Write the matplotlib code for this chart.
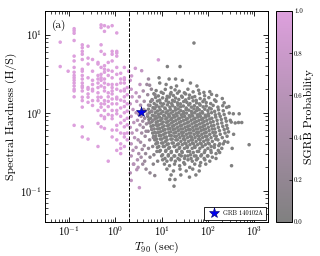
import numpy as np
import matplotlib
matplotlib.use("Agg")
import matplotlib.pyplot as plt
from matplotlib.colors import LinearSegmentedColormap

plt.rcParams['font.family'] = 'serif'
plt.rcParams['font.serif'] = ['cmr10', 'DejaVu Serif']
plt.rcParams['mathtext.fontset'] = 'cm'
plt.rcParams['axes.formatter.use_mathtext'] = True

# short GRBs (T90 [s], hardness ratio), SGRB probability ~1
short_grbs = [
    (0.064, 8.0), (0.064, 3.9), (0.095, 3.4),
    (0.128, 11.9), (0.128, 11.2), (0.128, 10.4), (0.128, 8.4), (0.128, 5.3), (0.128, 4.6),
    (0.128, 3.8), (0.128, 3.3), (0.128, 3.0), (0.128, 2.6), (0.128, 2.2), (0.128, 2.0),
    (0.128, 1.9), (0.128, 1.6), (0.128, 0.69), (0.128, 2.8), (0.128, 2.4),
    (0.192, 7.4), (0.192, 6.8), (0.192, 6.1), (0.192, 5.6), (0.192, 4.8), (0.192, 3.6),
    (0.192, 3.4), (0.192, 3.0), (0.192, 2.4), (0.192, 2.2), (0.192, 2.1), (0.192, 1.9),
    (0.192, 1.58), (0.192, 1.43), (0.192, 1.18), (0.192, 0.66), (0.192, 0.49), (0.192, 2.7),
    (0.256, 7.1), (0.256, 5.0), (0.256, 4.2), (0.256, 2.8), (0.256, 2.1), (0.256, 2.0),
    (0.256, 1.58), (0.256, 1.36), (0.256, 0.46), (0.256, 1.74),
    (0.32, 4.8), (0.32, 2.6), (0.32, 2.3), (0.32, 1.9), (0.32, 1.43), (0.32, 1.24),
    (0.32, 3.4), (0.32, 2.0),
    (0.42, 4.4), (0.42, 4.2), (0.42, 2.7), (0.42, 2.4), (0.42, 2.1), (0.42, 1.58),
    (0.42, 1.43), (0.42, 1.07), (0.42, 0.73), (0.42, 0.37), (0.42, 3.0), (0.42, 1.8),
    (0.49, 7.4), (0.49, 6.1), (0.49, 3.8), (0.49, 3.1), (0.49, 2.6), (0.49, 2.2),
    (0.49, 1.58), (0.49, 1.18), (0.49, 0.92), (0.49, 0.66), (0.49, 13.3), (0.49, 12.3),
    (0.49, 1.3), (0.49, 2.8),
    (0.58, 13.0), (0.58, 11.0), (0.58, 5.6), (0.58, 4.0), (0.58, 3.6), (0.58, 2.7),
    (0.58, 2.1), (0.58, 1.9), (0.58, 1.43), (0.58, 1.07), (0.58, 0.88), (0.58, 0.84),
    (0.58, 0.63), (0.58, 1.3), (0.58, 2.4), (0.58, 3.3),
    (0.70, 12.5), (0.70, 4.4), (0.70, 3.5), (0.70, 3.0), (0.70, 2.3), (0.70, 1.8),
    (0.70, 1.6), (0.70, 1.2), (0.70, 0.95), (0.70, 0.24), (0.70, 1.4),
    (0.85, 13.0), (0.85, 6.1), (0.85, 5.6), (0.85, 4.6), (0.85, 3.4), (0.85, 2.8),
    (0.85, 2.3), (0.85, 2.1), (0.85, 1.74), (0.85, 1.5), (0.85, 1.3), (0.85, 1.07),
    (0.85, 0.92), (0.85, 0.84), (0.85, 0.6), (0.85, 0.49), (0.85, 1.9),
    (1.07, 10.5), (1.07, 6.1), (1.07, 5.8), (1.07, 5.3), (1.07, 3.8), (1.07, 3.1),
    (1.07, 2.3), (1.07, 2.0), (1.07, 1.58), (1.07, 1.3), (1.07, 1.07), (1.07, 0.97),
    (1.07, 0.69), (1.07, 0.6), (1.07, 0.45), (1.07, 0.33), (1.07, 1.5),
    (1.3, 3.2), (1.3, 2.7), (1.3, 2.4), (1.3, 1.9), (1.3, 1.45), (1.3, 1.15),
    (1.3, 0.9), (1.3, 0.74), (1.3, 0.55), (1.3, 0.4), (1.3, 0.35), (1.3, 0.3),
    (1.56, 3.8), (1.56, 2.8), (1.56, 2.4), (1.56, 2.0), (1.56, 1.9), (1.56, 1.6),
    (1.56, 1.4), (1.56, 1.2), (1.56, 1.0), (1.56, 0.8), (1.56, 0.66), (1.56, 0.54),
    (1.56, 0.49), (1.56, 0.37), (1.56, 2.65),
    (1.8, 2.1), (1.8, 1.7), (1.8, 1.3), (1.8, 1.05), (1.8, 0.85), (1.8, 0.7),
    (1.8, 0.55), (1.8, 0.45), (1.93, 3.4),
]
short_prob = 1.0

# intermediate GRBs (T90, hardness, SGRB probability)
mid_grbs = [
    (2.24, 2.96, 0.85), (2.7, 3.7, 0.85), (3.7, 3.45, 0.7), (8.5, 4.75, 0.9),
    (2.1, 2.6, 0.85), (2.2, 2.0, 0.8), (2.3, 1.6, 0.75), (2.1, 1.3, 0.75),
    (2.4, 1.1, 0.7), (2.2, 0.9, 0.7), (2.5, 0.75, 0.65), (2.1, 0.65, 0.7),
    (2.3, 0.55, 0.65), (2.6, 0.48, 0.6), (2.2, 0.4, 0.65), (2.4, 0.33, 0.6),
    (2.2, 0.28, 0.6), (2.5, 0.22, 0.55), (2.2, 0.136, 0.7), (2.1, 0.17, 0.6),
    (2.9, 0.187, 0.6), (2.45, 0.22, 0.6), (3.1, 0.2, 0.55), (3.3, 0.11, 0.75),
    (2.8, 1.8, 0.7), (2.9, 1.4, 0.65), (2.8, 1.0, 0.6), (3.0, 0.8, 0.55),
    (2.9, 0.6, 0.55), (3.1, 0.45, 0.5), (2.8, 0.36, 0.5), (3.2, 0.3, 0.45),
    (3.0, 0.25, 0.5), (3.4, 2.3, 0.65), (3.3, 1.6, 0.55), (3.5, 1.25, 0.5),
    (3.6, 0.9, 0.45), (3.4, 0.7, 0.45), (3.7, 0.55, 0.4), (3.5, 0.42, 0.4),
    (3.8, 0.34, 0.35), (3.6, 0.27, 0.4), (3.9, 0.22, 0.35), (4.0, 1.9, 0.45),
    (4.2, 1.4, 0.4), (4.1, 1.1, 0.35), (4.3, 0.85, 0.3), (4.0, 0.65, 0.35),
    (4.4, 0.5, 0.3), (4.2, 0.38, 0.3), (4.5, 0.3, 0.25), (4.3, 0.24, 0.3),
    (4.6, 0.19, 0.25), (4.8, 2.3, 0.35), (5.2, 2.7, 0.35), (5.5, 2.25, 0.3),
    (5.0, 1.7, 0.3), (5.2, 1.25, 0.25), (4.9, 0.95, 0.25), (5.3, 0.75, 0.2),
    (5.1, 0.58, 0.2), (5.5, 0.45, 0.2), (5.2, 0.35, 0.2), (5.6, 0.27, 0.15),
    (5.6, 0.17, 0.2), (7.1, 0.157, 0.15), (6.0, 2.0, 0.2), (6.3, 1.45, 0.15),
    (6.1, 1.05, 0.15), (6.5, 0.8, 0.12), (6.2, 0.62, 0.12), (6.6, 0.48, 0.1),
    (6.4, 0.37, 0.1), (6.8, 0.29, 0.1), (6.6, 0.22, 0.1), (7.2, 1.7, 0.08),
    (7.5, 1.2, 0.06), (7.4, 0.9, 0.06), (7.8, 0.7, 0.05), (7.6, 0.55, 0.05),
    (8.0, 0.42, 0.05), (7.9, 0.32, 0.05), (8.2, 0.24, 0.04), (4.5, 1.05, 0.35),
    (4.7, 0.72, 0.3), (4.6, 0.58, 0.3), (3.9, 0.78, 0.4), (3.2, 0.95, 0.5),
]

# long GRBs (T90, hardness), SGRB probability ~0
long_grbs = [
    (50, 7.8), (13.3, 3.9), (25, 3.9), (8.8, 2.8), (14.5, 2.7), (20, 2.7), (42, 2.4), (9.1, 2.4),
    (12.5, 2.3), (21, 2.2), (28, 2.6), (58, 2.2), (16, 2.1),
    (7.6, 1.92), (9.8, 1.83), (12, 1.99), (16, 1.81), (19.5, 1.96), (24, 1.88), (31, 1.8),
    (37, 2.0), (48, 1.85), (63, 1.94), (82, 1.82), (110, 1.86),
    (6.8, 1.75), (8.5, 1.64), (10.8, 1.77), (13.2, 1.62), (15.5, 1.73), (18, 1.66), (22, 1.78),
    (27, 1.63), (33, 1.74), (40, 1.68), (52, 1.61), (66, 1.76), (85, 1.65), (120, 1.72), (155, 1.66),
    (6.2, 1.47), (7.4, 1.57), (9.1, 1.45), (10.5, 1.55), (12.8, 1.5), (14.6, 1.59), (17.2, 1.44),
    (20, 1.54), (23.5, 1.48), (28, 1.58), (33, 1.46), (39, 1.53), (46, 1.57), (56, 1.44),
    (68, 1.52), (84, 1.47), (105, 1.56), (140, 1.46), (205, 1.52),
    (5.8, 1.39), (6.9, 1.31), (8.1, 1.41), (9.5, 1.33), (11, 1.3), (12.5, 1.42), (14.2, 1.36),
    (16.5, 1.31), (19, 1.4), (22, 1.34), (25.5, 1.3), (30, 1.39), (35, 1.36), (41, 1.31),
    (48, 1.42), (57, 1.34), (66, 1.3), (78, 1.39), (92, 1.35), (115, 1.31), (150, 1.4), (225, 1.34),
    (5.6, 1.24), (6.5, 1.16), (7.8, 1.25), (8.8, 1.18), (10.2, 1.22), (11.7, 1.15), (13.3, 1.26),
    (15.1, 1.18), (17.3, 1.23), (19.6, 1.16), (22.5, 1.25), (25.8, 1.19), (29.5, 1.22), (34, 1.15),
    (38.5, 1.26), (44, 1.18), (51, 1.23), (59, 1.16), (68, 1.25), (79, 1.19), (92, 1.22),
    (108, 1.15), (130, 1.24), (165, 1.18), (210, 1.23), (255, 1.17),
    (5.2, 1.11), (6.1, 1.04), (7.1, 1.12), (8.2, 1.05), (9.3, 1.09), (10.6, 1.03), (12, 1.12),
    (13.6, 1.05), (15.4, 1.1), (17.6, 1.04), (20, 1.08), (22.8, 1.12), (26, 1.06), (29.7, 1.03),
    (33.8, 1.1), (38.5, 1.08), (44, 1.04), (50, 1.12), (57, 1.06), (65, 1.09), (75, 1.03),
    (86, 1.11), (100, 1.06), (118, 1.12), (140, 1.04), (170, 1.09), (215, 1.06),
    (5.4, 1.0), (6.3, 0.93), (7.3, 1.0), (8.5, 0.95), (9.6, 0.98), (11, 0.92), (12.4, 1.0),
    (14, 0.95), (15.9, 0.99), (18, 0.93), (20.5, 0.97), (23.3, 1.0), (26.5, 0.94), (30, 0.97),
    (34.5, 0.99), (39.5, 0.92), (45, 0.97), (51.5, 1.0), (59, 0.94), (67, 0.97), (77, 0.99),
    (88, 0.93), (102, 0.97), (120, 1.0), (145, 0.94), (175, 0.97), (225, 0.95), (290, 0.99),
    (5, 0.9), (5.8, 0.85), (6.8, 0.91), (7.9, 0.86), (9, 0.88), (10.2, 0.84), (11.6, 0.91),
    (13.1, 0.86), (14.8, 0.9), (16.8, 0.85), (19, 0.88), (21.6, 0.91), (24.5, 0.85), (27.8, 0.88),
    (31.6, 0.9), (36, 0.84), (41, 0.88), (46.8, 0.91), (53, 0.85), (60.5, 0.88), (69, 0.9),
    (79, 0.85), (90, 0.88), (104, 0.91), (122, 0.85), (148, 0.88), (185, 0.9), (240, 0.85),
    (5.3, 0.82), (6.2, 0.77), (7.2, 0.83), (8.3, 0.78), (9.5, 0.8), (10.8, 0.76), (12.3, 0.83),
    (13.9, 0.78), (15.8, 0.82), (17.9, 0.77), (20.3, 0.8), (23, 0.83), (26.2, 0.77), (29.8, 0.8),
    (33.8, 0.82), (38.4, 0.76), (43.6, 0.8), (49.5, 0.83), (56.3, 0.77), (64, 0.8), (72.8, 0.82),
    (83, 0.77), (95, 0.8), (110, 0.83), (130, 0.77), (158, 0.8), (195, 0.82), (250, 0.78), (305, 0.8),
    (5.6, 0.74), (6.6, 0.69), (7.6, 0.75), (8.7, 0.7), (9.9, 0.72), (11.3, 0.68), (12.8, 0.75),
    (14.5, 0.7), (16.4, 0.74), (18.6, 0.69), (21.1, 0.72), (24, 0.75), (27.2, 0.69), (30.9, 0.72),
    (35.1, 0.74), (39.9, 0.68), (45.3, 0.72), (51.4, 0.75), (58.4, 0.69), (66.3, 0.72), (75.3, 0.74),
    (85.5, 0.69), (98, 0.72), (114, 0.75), (135, 0.69), (162, 0.72), (200, 0.74), (255, 0.69),
    (5.9, 0.67), (6.9, 0.62), (8, 0.68), (9.1, 0.63), (10.4, 0.65), (11.8, 0.61), (13.4, 0.68),
    (15.2, 0.63), (17.2, 0.67), (19.5, 0.62), (22.1, 0.65), (25.1, 0.68), (28.5, 0.62), (32.3, 0.65),
    (36.7, 0.67), (41.6, 0.61), (47.2, 0.65), (53.6, 0.68), (60.8, 0.62), (69, 0.65), (78.3, 0.67),
    (89, 0.62), (102, 0.65), (119, 0.68), (140, 0.62), (168, 0.65), (210, 0.67), (265, 0.63),
    (6.1, 0.61), (7.1, 0.56), (8.2, 0.62), (9.4, 0.57), (10.7, 0.59), (12.2, 0.55), (13.8, 0.62),
    (15.7, 0.57), (17.8, 0.61), (20.2, 0.56), (22.9, 0.59), (26, 0.62), (29.5, 0.56), (33.5, 0.59),
    (38, 0.61), (43.1, 0.55), (48.9, 0.59), (55.5, 0.62), (63, 0.56), (71.5, 0.59), (81, 0.61),
    (92, 0.56), (106, 0.59), (124, 0.62), (146, 0.56), (178, 0.59), (225, 0.61), (280, 0.57),
    (6.4, 0.55), (7.4, 0.5), (8.5, 0.56), (9.7, 0.51), (11.1, 0.53), (12.6, 0.49), (14.3, 0.56),
    (16.2, 0.51), (18.4, 0.55), (20.9, 0.5), (23.7, 0.53), (26.9, 0.56), (30.5, 0.5), (34.6, 0.53),
    (39.3, 0.55), (44.6, 0.49), (50.6, 0.53), (57.4, 0.56), (65.2, 0.5), (74, 0.53), (84, 0.55),
    (96, 0.5), (110, 0.53), (128, 0.56), (152, 0.5), (185, 0.53), (235, 0.55),
    (6.7, 0.5), (7.8, 0.46), (8.9, 0.51), (10.1, 0.46), (11.5, 0.48), (13.1, 0.45), (14.9, 0.51),
    (16.9, 0.46), (19.2, 0.5), (21.8, 0.45), (24.7, 0.48), (28, 0.51), (31.8, 0.45), (36.1, 0.48),
    (41, 0.5), (46.5, 0.45), (52.8, 0.48), (60, 0.51), (68, 0.45), (77, 0.48), (88, 0.5),
    (101, 0.45), (117, 0.48), (138, 0.51), (165, 0.45), (205, 0.48), (260, 0.5),
    (7.1, 0.45), (8.2, 0.41), (9.4, 0.46), (10.7, 0.41), (12.2, 0.43), (13.9, 0.4), (15.8, 0.46),
    (17.9, 0.41), (20.3, 0.45), (23, 0.4), (26.1, 0.43), (29.6, 0.46), (33.6, 0.4), (38.1, 0.43),
    (43.2, 0.45), (49, 0.4), (55.6, 0.43), (63.1, 0.46), (71.6, 0.4), (81.3, 0.43), (93, 0.45),
    (107, 0.4), (125, 0.43), (148, 0.46), (180, 0.4), (230, 0.43),
    (7.5, 0.4), (8.7, 0.37), (10, 0.41), (11.4, 0.37), (13, 0.39), (14.8, 0.36), (16.8, 0.41),
    (19.1, 0.37), (21.7, 0.39), (24.6, 0.36), (27.9, 0.39), (31.7, 0.41), (36, 0.36), (40.9, 0.39),
    (46.4, 0.41), (52.7, 0.36), (59.8, 0.39), (68, 0.41), (77, 0.37), (88, 0.39), (101, 0.41),
    (118, 0.37), (140, 0.39), (172, 0.38), (215, 0.4),
    (8.1, 0.36), (9.4, 0.33), (10.8, 0.37), (12.4, 0.33), (14.2, 0.35), (16.2, 0.32), (18.5, 0.37),
    (21.1, 0.33), (24, 0.35), (27.3, 0.32), (31.1, 0.35), (35.4, 0.37), (40.3, 0.32), (45.8, 0.35),
    (52, 0.37), (59.1, 0.32), (67.2, 0.35), (76.4, 0.37), (87, 0.33), (100, 0.35), (116, 0.33),
    (138, 0.36), (168, 0.33), (200, 0.35),
    (9, 0.32), (10.5, 0.29), (12.2, 0.32), (14, 0.29), (16.1, 0.31), (18.5, 0.28), (21.2, 0.32),
    (24.3, 0.29), (27.9, 0.31), (32, 0.28), (36.7, 0.32), (42.1, 0.29), (48.3, 0.31), (55.4, 0.28),
    (63.5, 0.32), (72.8, 0.29), (84, 0.31), (98, 0.28), (118, 0.31), (150, 0.3), (180, 0.31),
    (10, 0.28), (11.8, 0.26), (13.9, 0.28), (16.3, 0.26), (19.2, 0.28), (22.6, 0.26), (26.6, 0.28),
    (31.3, 0.26), (36.8, 0.28), (43.3, 0.26), (51, 0.28), (60, 0.26), (70.5, 0.28), (83, 0.26),
    (100, 0.28), (125, 0.27), (150, 0.26),
    (10.5, 0.25), (13, 0.24), (16, 0.25), (19.8, 0.24), (24.4, 0.25), (30.1, 0.23), (37.2, 0.25),
    (45.9, 0.24), (56.6, 0.25), (69.8, 0.23), (86, 0.25), (110, 0.24),
    (11.5, 0.22), (14.8, 0.21), (19, 0.22), (24.5, 0.21), (31.5, 0.22), (40.5, 0.2), (52, 0.22),
    (67, 0.21), (90, 0.22),
    (13, 0.19), (18, 0.18), (25, 0.19), (34, 0.18), (47, 0.19), (65, 0.18),
    (16, 0.16), (26, 0.16), (40, 0.15), (55, 0.16),
    (18.5, 0.115), (15, 0.14), (19.5, 0.14),
    (320, 0.76), (390, 0.74), (460, 0.75), (540, 0.75), (475, 0.97), (355, 0.97), (780, 0.39),
    (360, 0.53), (335, 0.35), (325, 0.21), (285, 1.2), (270, 0.42),
]
long_prob = 0.0

grb_name = 'GRB 140102A'
grb_t90 = 3.5
grb_hr = 1.02

short_t90, short_hr = np.array(short_grbs).T
mid_t90, mid_hr, mid_prob = np.array(mid_grbs).T
long_t90, long_hr = np.array(long_grbs).T

t90 = np.concatenate([long_t90, mid_t90, short_t90])
hr = np.concatenate([long_hr, mid_hr, short_hr])
prob = np.concatenate([np.full(len(long_t90), long_prob), mid_prob,
                       np.full(len(short_t90), short_prob)])

cmap = LinearSegmentedColormap.from_list('sgrb', ['#808080', '#dda0dd'])

fig = plt.figure(figsize=(3.2, 2.56), dpi=100)
ax = fig.add_axes([0.1406, 0.1328, 0.697, 0.824])
cax = fig.add_axes([0.8625, 0.1328, 0.05, 0.824])

sc = ax.scatter(t90, hr, c=prob, cmap=cmap, vmin=0, vmax=1, s=6.5, linewidths=0)
ax.axvline(2, color='k', ls='--', lw=0.7)
ax.plot(grb_t90, grb_hr, '*', color='#0000ee', mec='#000066', mew=0.4, ms=8,
        ls='none', label=grb_name)

ax.set_xscale('log')
ax.set_yscale('log')
ax.set_xlim(0.03, 2000)
ax.set_ylim(0.04, 20)
ax.set_xlabel('$T_{90}$ (sec)', fontsize=8.5)
ax.set_ylabel('Spectral Hardness (H/S)', fontsize=8.5)
ax.xaxis.set_label_coords(0.5, -0.085)
ax.yaxis.set_label_coords(-0.125, 0.5)
ax.tick_params(which='both', direction='in', top=True, right=True, labelsize=7.5)
ax.tick_params(which='major', length=3.5, width=0.6, pad=2)
ax.tick_params(which='minor', length=2, width=0.5)
for sp in ax.spines.values():
    sp.set_linewidth(0.7)
ax.text(0.03, 0.96, '(a)', transform=ax.transAxes, fontsize=8, va='top')

leg = ax.legend(loc='lower right', fontsize=4.5, fancybox=False, edgecolor='k',
                framealpha=1, borderpad=0.5, handletextpad=0.4, borderaxespad=0.4)
leg.get_frame().set_linewidth(0.6)

cb = fig.colorbar(sc, cax=cax)
cb.set_ticks([0.0, 0.2, 0.4, 0.6, 0.8, 1.0])
cb.ax.set_yticklabels(['0.0', '0.2', '0.4', '0.6', '0.8', '1.0'])
cb.ax.tick_params(labelsize=5, direction='in', length=2, width=0.5, pad=1.5)
cb.outline.set_linewidth(0.7)
cb.set_label('SGRB Probability', fontsize=8.5, labelpad=1)

fig.savefig('out.png', dpi=100)
